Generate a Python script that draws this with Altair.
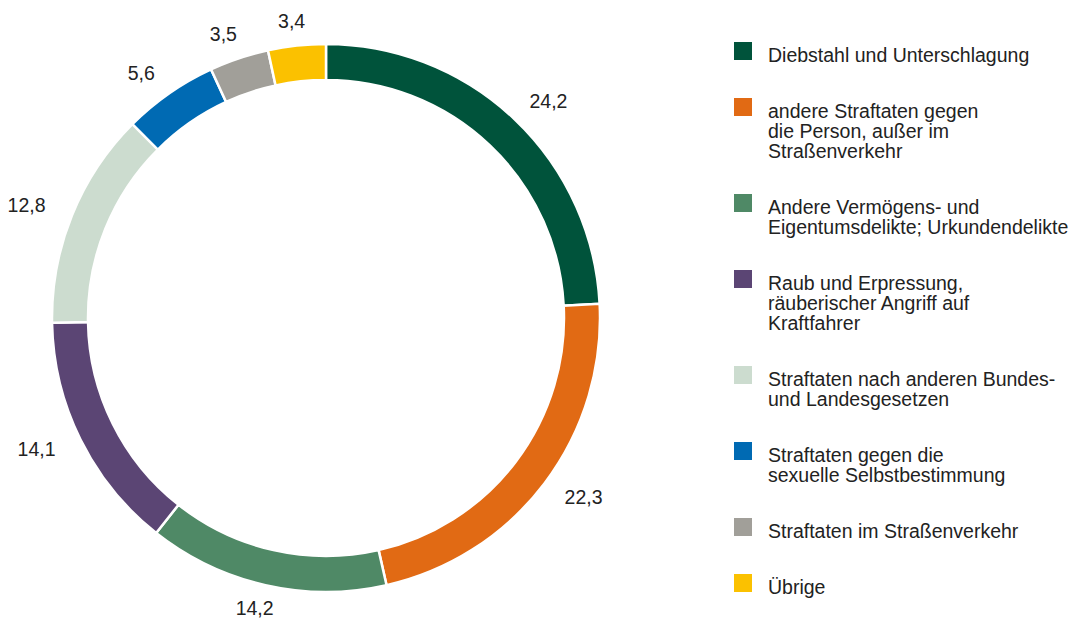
import math
import altair as alt
import pandas as pd

categories = [
    "Diebstahl und Unterschlagung",
    "andere Straftaten gegen\ndie Person, außer im\nStraßenverkehr",
    "Andere Vermögens- und\nEigentumsdelikte; Urkundendelikte",
    "Raub und Erpressung,\nräuberischer Angriff auf\nKraftfahrer",
    "Straftaten nach anderen Bundes-\nund Landesgesetzen",
    "Straftaten gegen die\nsexuelle Selbstbestimmung",
    "Straftaten im Straßenverkehr",
    "Übrige",
]
values = [24.2, 22.3, 14.2, 14.1, 12.8, 5.6, 3.5, 3.4]
value_labels = ["24,2", "22,3", "14,2", "14,1", "12,8", "5,6", "3,5", "3,4"]
colors = ["#00533B", "#E16A14", "#4F8966", "#5B4574", "#CCDCCF", "#006AB3", "#A19F99", "#FBC100"]

FONT = "Liberation Sans, Arial, Helvetica, sans-serif"
FS = 19.5
TXT = "#222222"
W, H = 1070, 614
CX, CY = 318, 310

# label placement on a slightly elliptical path around the ring,
# derived from each slice's mid angle
RX, RY = 323, 298
total = sum(values)
label_r, label_dth, acc = [], [], 0.0
for v in values:
    mid = (acc + v / 2) / total * 2 * math.pi
    acc += v
    ex, ey = RX * math.sin(mid), RY * math.cos(mid)
    label_r.append(math.hypot(ex, ey))
    d = math.atan2(ex, ey) % (2 * math.pi) - mid
    d = (d + math.pi) % (2 * math.pi) - math.pi
    label_dth.append(d)

# legend layout derived from number of text lines per entry
LINE_H, GAP, TOP = 20, 36, 43
lines = [c.count("\n") + 1 for c in categories]
ly, pos = [], TOP
for n in lines:
    ly.append(pos)
    pos += n * LINE_H + GAP

df = pd.DataFrame({
    "idx": list(range(len(categories))),
    "name": categories,
    "value": values,
    "label": value_labels,
    "lr": label_r,
    "dth": label_dth,
    "ly": ly,
})

color = alt.Color("name:N", scale=alt.Scale(domain=categories, range=colors), legend=None)
base = alt.Chart(df)

arc = base.mark_arc(outerRadius=274, innerRadius=238, stroke="white", strokeWidth=2.5).encode(
    theta=alt.Theta("value:Q", stack=True),
    color=color,
    order=alt.Order("idx:Q"),
    x=alt.value(CX), y=alt.value(CY),
)

labels = base.mark_text(radius=alt.expr("datum.lr"), thetaOffset=alt.expr("datum.dth"),
                        fontSize=FS, font=FONT, color=TXT,
                        align="center", baseline="middle").encode(
    theta=alt.Theta("value:Q", stack=True),
    detail="name:N",
    order=alt.Order("idx:Q"),
    text="label:N",
    x=alt.value(CX), y=alt.value(CY),
)

yscale = alt.Scale(domain=[0, H], range=[0, H])
squares = base.mark_square(size=324, opacity=1, filled=True).encode(
    x=alt.value(735),
    y=alt.Y("ly:Q", scale=yscale, axis=None),
    color=color,
)
legend_text = base.mark_text(align="left", baseline="alphabetic", dy=11, lineBreak="\n",
                             fontSize=FS, lineHeight=LINE_H, font=FONT, color=TXT).encode(
    x=alt.value(760),
    y=alt.Y("ly:Q", scale=yscale, axis=None),
    text="name:N",
)

chart = alt.layer(arc, labels, squares, legend_text).properties(
    width=W, height=H, autosize="none", padding=0
).configure_view(stroke=None)

chart.save("out.html", embed_options={"renderer": "svg", "actions": False})
